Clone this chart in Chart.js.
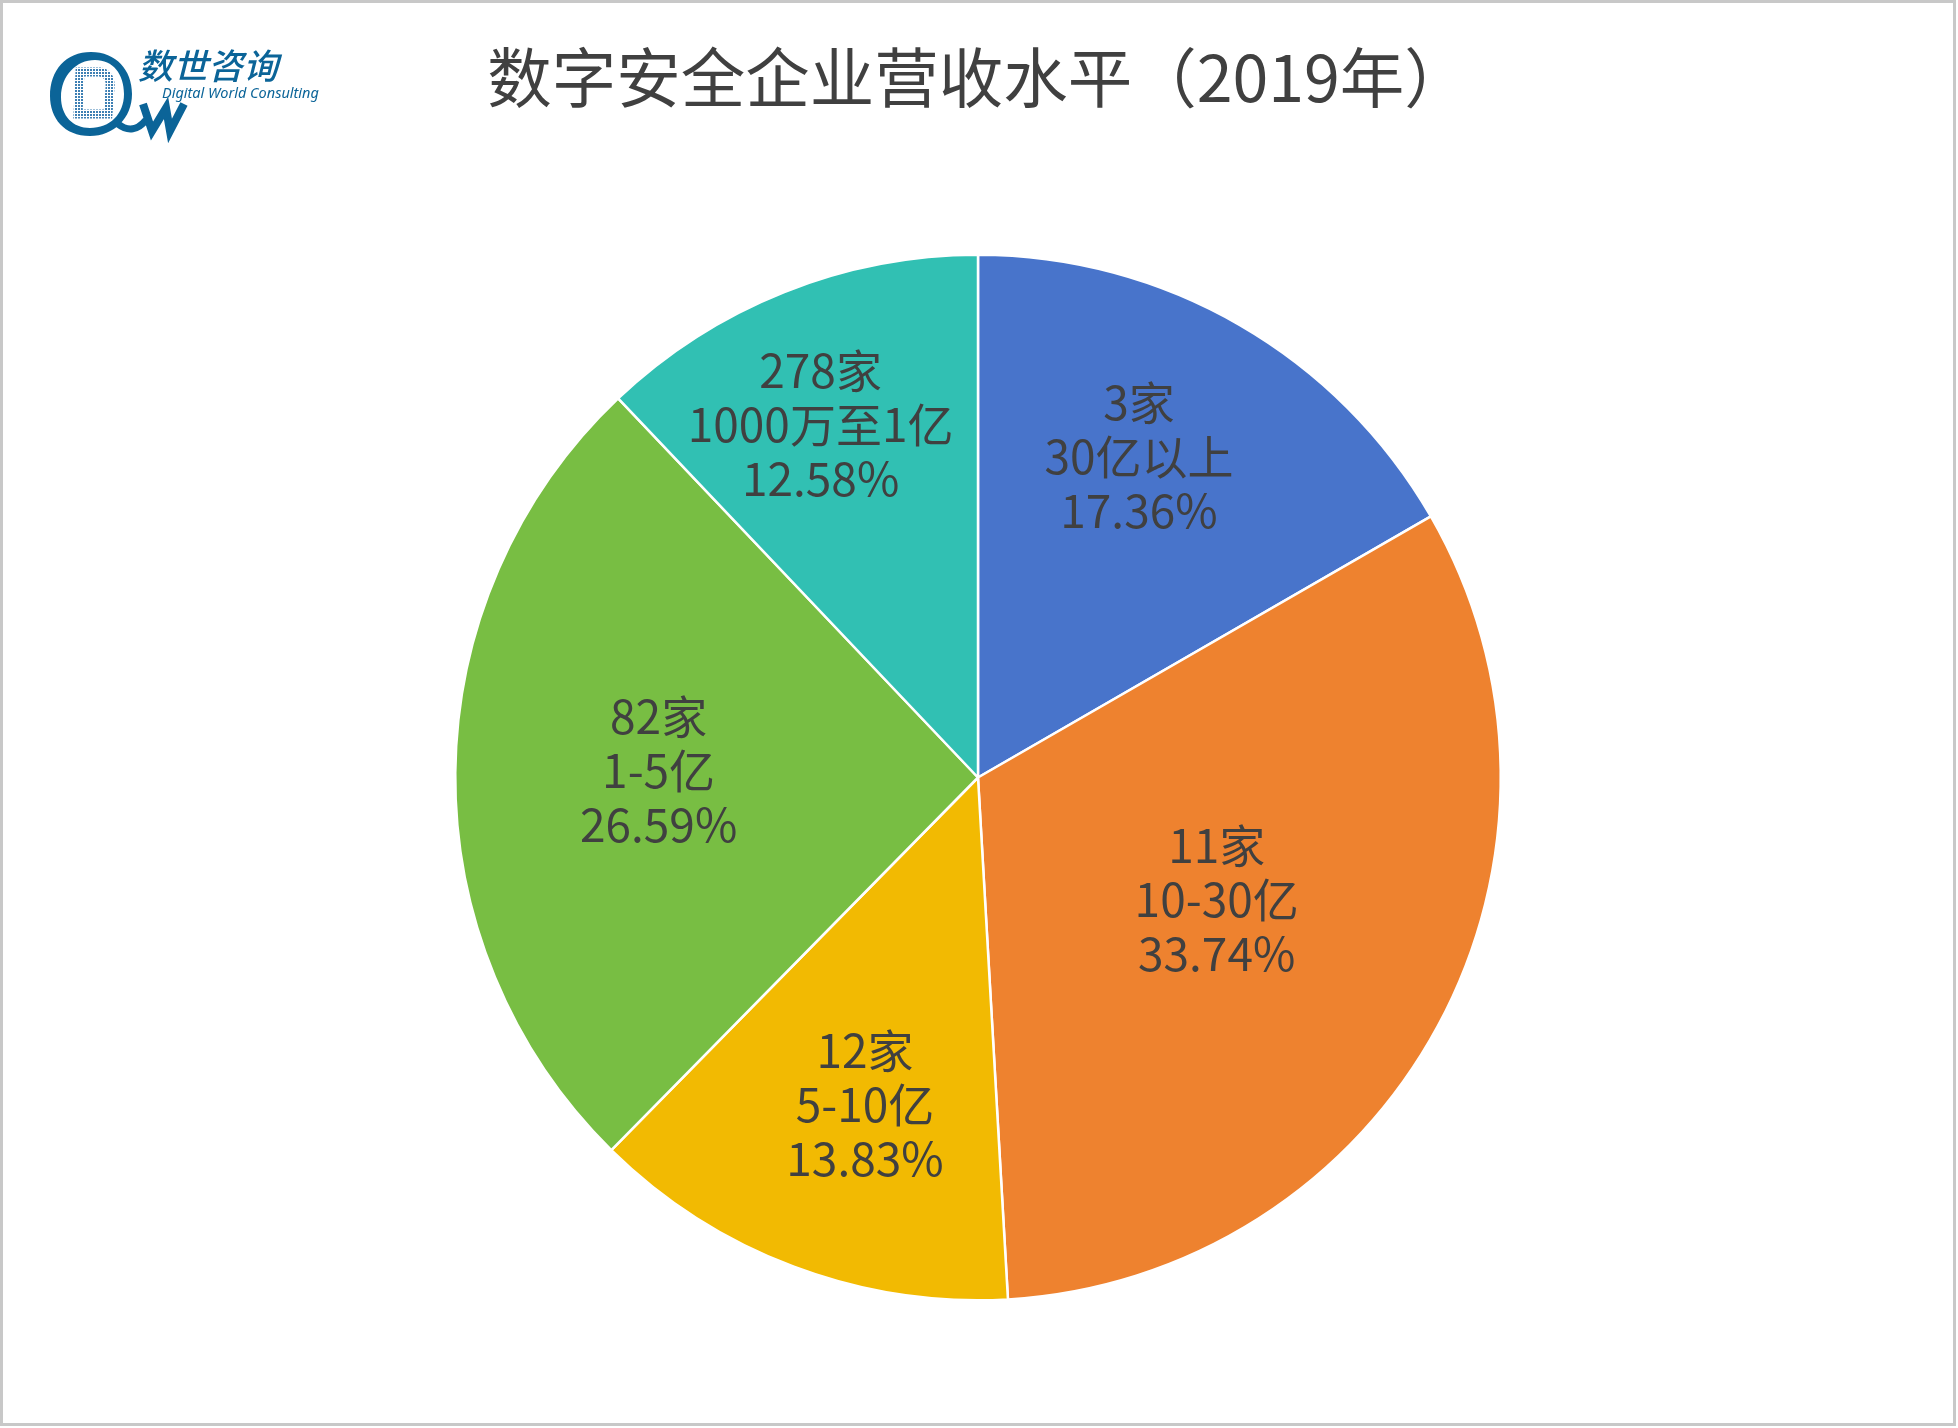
<!DOCTYPE html>
<html>
<head>
<meta charset="utf-8">
<script src="https://cdn.jsdelivr.net/npm/chart.js@4.4.1/dist/chart.umd.min.js"></script>
<style>
    html, body { margin: 0; padding: 0; background: #fff; }
    #wrap { position: relative; width: 1958px; height: 1428px; overflow: hidden; }
    #frame { position: absolute; left: 0; top: 0; width: 1956px; height: 1426px; box-sizing: border-box; border: 3px solid #c8c8c8; pointer-events: none; }
    #title { position: absolute; left: 19px; width: 1918px; top: 31px; text-align: center; font-family: "Noto Sans CJK SC", "Noto Sans", sans-serif; font-size: 64.5px; line-height: 86px; color: #404040; }
    #logo { position: absolute; left: 0; top: 0; }
    #chartBox { position: absolute; left: 0; top: 0; width: 1958px; height: 1428px; }
</style>
</head>
<body>
<div id="wrap">
    <div id="chartBox"><canvas id="revenuePie"></canvas></div>
    <svg id="logo" width="340" height="150" viewBox="0 0 340 150">
        <defs>
            <pattern id="dots" width="3" height="3" patternUnits="userSpaceOnUse">
                <rect x="0" y="0" width="2" height="2" fill="#3d7fb3"/>
            </pattern>
        </defs>
        <!-- ring of the @ -->
        <path fill="#0b6498" fill-rule="evenodd"
              d="M91,52 C116,52 132,70 132,94 C132,118 114,136 90,136 C64,136 50,118 50,96 C50,70 66,52 91,52 Z
                 M95,60 C76,60 61,76 61,97 C61,116 73,128 90,128 C110,128 124,114 124,94 C124,74 113,60 95,60 Z"/>
        <!-- tail into the W -->
        <path fill="none" stroke="#0b6498" stroke-width="7" d="M118,124 C128,132 138,130 146,120"/>
        <!-- dotted D -->
        <path fill="none" stroke="url(#dots)" stroke-width="9"
              d="M80,72 L100,72 C108,73 111,80 110,88 L108,114 L78,114 Z"/>
        <!-- W -->
        <path fill="none" stroke="#0b6498" stroke-width="8" stroke-linejoin="miter"
              d="M143,104 L152,131 L166,108 L170,131 L184,104"/>
        <text x="138" y="79" font-family="Noto Sans CJK SC" font-size="35" font-weight="500" fill="#0b6498" font-style="italic">数世咨询</text>
        <text x="162" y="98" font-family="Noto Sans, DejaVu Sans, sans-serif" font-size="14.5" fill="#0b6498" font-style="italic">Digital World Consulting</text>
    </svg>
    <div id="title">数字安全企业营收水平（2019年）</div>
    <div id="frame"></div>
</div>
<script>
// revenue bands, company counts and revenue share (%) per band
const categories = ['30亿以上', '10-30亿', '5-10亿', '1-5亿', '1000万至1亿'];
const companyCounts = [3, 11, 12, 82, 278];
const revenueShares = [17.36, 33.74, 13.83, 26.59, 12.58];

const sliceColors = ['#4874cb', '#ee822f', '#f2ba02', '#78be43', '#31c0b3'];
// label placement: share of radius, and a small turn (deg) off the slice middle
const labelRadius = [0.68, 0.516, 0.67, 0.611, 0.733];
const labelTurn = [-3.1, -0.6, -1.8, 0, -2.5];

// In-slice labels: "N家 / band / pct%"
const sliceLabelsPlugin = {
    id: 'sliceLabels',
    afterDatasetsDraw(chart) {
        const { ctx } = chart;
        const meta = chart.getDatasetMeta(0);
        ctx.save();
        ctx.font = '46px "Noto Sans CJK SC", "Noto Sans", sans-serif';
        ctx.fillStyle = '#404040';
        ctx.textAlign = 'center';
        ctx.textBaseline = 'middle';
        meta.data.forEach((arc, i) => {
            const p = arc.getProps(['x', 'y', 'startAngle', 'endAngle', 'outerRadius'], true);
            const mid = (p.startAngle + p.endAngle) / 2 + labelTurn[i] * Math.PI / 180;
            const r = p.outerRadius * labelRadius[i];
            const cx = p.x + Math.cos(mid) * r;
            const cy = p.y + Math.sin(mid) * r - 4;
            const lines = [
                companyCounts[i] + '家',
                categories[i],
                revenueShares[i].toFixed(2) + '%'
            ];
            lines.forEach((t, k) => ctx.fillText(t, cx, cy + (k - 1) * 54));
        });
        ctx.restore();
    }
};

new Chart(document.getElementById('revenuePie'), {
    type: 'pie',
    data: {
        labels: categories,
        datasets: [{
            data: revenueShares,
            backgroundColor: sliceColors,
            borderColor: '#ffffff',
            borderWidth: 2.5,
            hoverOffset: 0
        }]
    },
    options: {
        responsive: true,
        maintainAspectRatio: false,
        animation: false,
        layout: { padding: { left: 454, right: 456, top: 253, bottom: 126 } },
        plugins: {
            legend: { display: false },
            tooltip: { enabled: false }
        }
    },
    plugins: [sliceLabelsPlugin]
});
</script>
</body>
</html>
